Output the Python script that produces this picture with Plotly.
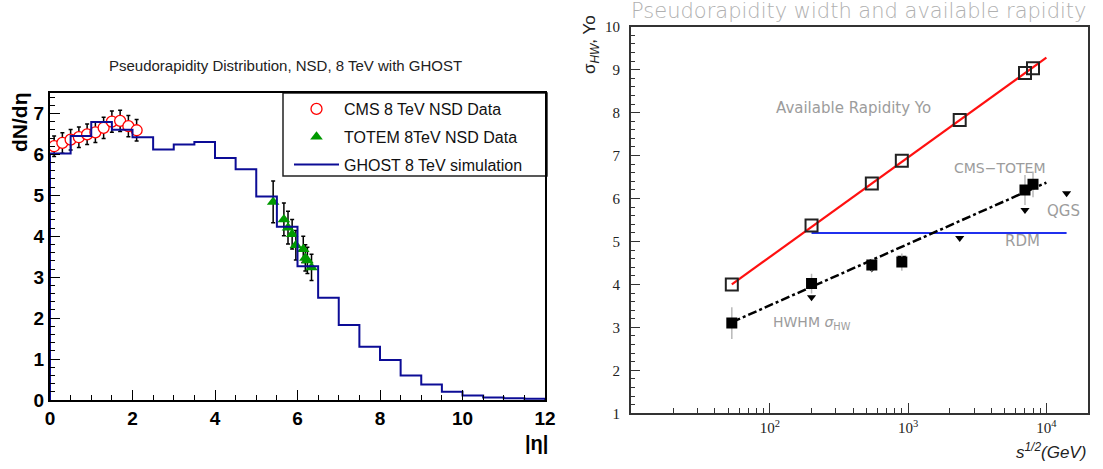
import plotly.graph_objects as go

W, H = 1103, 469

# ---------------- Left panel data ----------------
eta_edges = [0, 0.5, 1, 1.5, 2, 2.5, 3, 3.5, 4, 4.5, 5, 5.5, 6, 6.5, 7, 7.5,
             8, 8.5, 9, 9.5, 10, 10.5, 11, 11.5, 12]
ghost_dndeta = [6.02, 6.45, 6.79, 6.60, 6.42, 6.12, 6.24, 6.30, 5.91, 5.64, 4.97, 4.23,
                3.27, 2.50, 1.83, 1.30, 0.98, 0.60, 0.38, 0.20, 0.11, 0.06, 0.04, 0.03]

cms_eta = [0.1, 0.3, 0.5, 0.7, 0.9, 1.1, 1.3, 1.5, 1.7, 1.9, 2.1]
cms_dndeta = [6.20, 6.28, 6.36, 6.42, 6.49, 6.54, 6.65, 6.80, 6.82, 6.69, 6.59]
cms_err = [0.25, 0.25, 0.25, 0.25, 0.25, 0.25, 0.26, 0.26, 0.26, 0.26, 0.26]

totem_eta = [5.41, 5.67, 5.77, 5.87, 5.96, 6.14, 6.19, 6.24, 6.34]
totem_dndeta = [4.84, 4.41, 4.21, 4.05, 3.78, 3.68, 3.47, 3.41, 3.24]
totem_err = [0.51, 0.40, 0.40, 0.36, 0.36, 0.32, 0.32, 0.32, 0.32]

# ---------------- Right panel data ----------------
yo_sqrts = [53, 200, 546, 900, 2360, 7000, 8000]
yo_val = [4.0, 5.37, 6.35, 6.88, 7.83, 8.92, 9.03]
yo_fit_sqrts = [53, 10000]
yo_fit_val = [4.0, 9.28]

hw_sqrts = [53, 200, 546, 900, 7000, 8000]
hw_val = [3.10, 4.02, 4.45, 4.52, 6.20, 6.33]
hw_err = [0.37, 0.23, 0.15, 0.20, 0.35, 0.30]
hw_fit_sqrts = [53, 10000]
hw_fit_val = [3.12, 6.37]

qgs_sqrts = [200, 546, 900, 2360, 7000, 14000]
qgs_val = [3.70, 4.37, 4.62, 5.08, 5.73, 6.12]

rdm_sqrts = [200, 14000]
rdm_val = [5.20, 5.20]

xtick_vals = [100, 1000, 10000]
xtick_text = ["10<sup>2</sup>", "10<sup>3</sup>", "10<sup>4</sup>"]
xminor_vals = [m * d for d in (10, 100, 1000) for m in range(2, 10)] + [20000]

# histogram step path built from bin edges/contents
hx = [eta_edges[0]] + eta_edges[:-1] + [eta_edges[-1], eta_edges[-1]]
hy = [0] + ghost_dndeta + [ghost_dndeta[-1], 0]

fig = go.Figure()

fig.add_trace(go.Scatter(
    x=cms_eta, y=cms_dndeta, mode="markers", name="CMS 8 TeV NSD Data",
    legendgroup="a", legendrank=1,
    marker=dict(symbol="circle", size=11, color="white", line=dict(color="red", width=1.3)),
    error_y=dict(type="data", array=cms_err, color="black", thickness=1.5, width=2),
    xaxis="x", yaxis="y"))
fig.add_trace(go.Scatter(
    x=totem_eta, y=totem_dndeta, mode="markers", name="TOTEM 8TeV NSD Data",
    legendgroup="b", legendrank=2,
    marker=dict(symbol="triangle-up", size=11, color="#009900"),
    error_y=dict(type="data", array=totem_err, color="black", thickness=1.5, width=2),
    xaxis="x", yaxis="y"))
fig.add_trace(go.Scatter(
    x=hx, y=hy, mode="lines", line_shape="hv", name="GHOST 8 TeV simulation",
    legendgroup="c", legendrank=3,
    line=dict(color="#0c0c96", width=2),
    xaxis="x", yaxis="y"))

# right panel
fig.add_trace(go.Scatter(
    x=yo_fit_sqrts, y=yo_fit_val, mode="lines", showlegend=False,
    line=dict(color="#ff1010", width=2.2), xaxis="x2", yaxis="y2"))
fig.add_trace(go.Scatter(
    x=rdm_sqrts, y=rdm_val, mode="lines", showlegend=False,
    line=dict(color="#2030ee", width=2), xaxis="x2", yaxis="y2"))
fig.add_trace(go.Scatter(
    x=hw_fit_sqrts, y=hw_fit_val, mode="lines", showlegend=False,
    line=dict(color="black", width=2.5, dash="dashdot"), xaxis="x2", yaxis="y2"))
fig.add_trace(go.Scatter(
    x=qgs_sqrts, y=qgs_val, mode="markers", showlegend=False,
    marker=dict(symbol="triangle-down", size=8, color="black"),
    xaxis="x2", yaxis="y2"))
fig.add_trace(go.Scatter(
    x=hw_sqrts, y=hw_val, mode="markers", showlegend=False,
    marker=dict(symbol="square", size=11, color="black"),
    error_y=dict(type="data", array=hw_err, color="#b8b8b8", thickness=1.5, width=0),
    xaxis="x2", yaxis="y2"))
fig.add_trace(go.Scatter(
    x=yo_sqrts, y=yo_val, mode="markers", showlegend=False,
    marker=dict(symbol="square-open", size=12, color="#222222", line=dict(width=2)),
    xaxis="x2", yaxis="y2"))

boldfont = dict(family="Liberation Sans", size=19, color="black", weight="bold")
seriffont = dict(family="Liberation Serif", size=15, color="#222222")

fig.update_layout(
    width=W, height=H, margin=dict(l=0, r=0, t=0, b=0, autoexpand=False),
    autosize=False,
    paper_bgcolor="white", plot_bgcolor="white",
    xaxis=dict(domain=[50 / W, 545 / W], anchor="y", range=[0, 12], dtick=2,
               ticks="inside", ticklen=10, tickwidth=1.2, tickcolor="black",
               minor=dict(dtick=0.5, ticks="inside", ticklen=5, tickcolor="black"),
               showline=True, linecolor="black", linewidth=2, mirror=True, automargin=False,
               showgrid=False, zeroline=False, tickfont=boldfont),
    yaxis=dict(domain=[1 - 400 / H, 1 - 93 / H], anchor="x", range=[0, 7.5], dtick=1,
               ticks="inside", ticklen=10, tickwidth=1.2, tickcolor="black",
               minor=dict(dtick=0.2, ticks="inside", ticklen=5, tickcolor="black"),
               showline=True, linecolor="black", linewidth=2, mirror=True, automargin=False,
               showgrid=False, zeroline=False, tickfont=boldfont),
    xaxis2=dict(domain=[631 / W, 1088 / W], anchor="y2", type="log", range=[0.995, 4.301],
                tickmode="array", tickvals=xtick_vals, ticktext=xtick_text,
                ticks="inside", ticklen=10, tickcolor="#333333",
                minor=dict(tickmode="array", tickvals=xminor_vals, ticks="inside",
                           ticklen=5, tickcolor="#333333"),
                showline=True, linecolor="#333333", linewidth=2, mirror=True, automargin=False,
                showgrid=False, zeroline=False, tickfont=seriffont),
    yaxis2=dict(domain=[1 - 413.3 / H, 1 - 26.7 / H], anchor="x2", range=[1, 10], dtick=1,
                ticks="inside", ticklen=9, tickcolor="#333333",
                minor=dict(dtick=0.2, ticks="inside", ticklen=4, tickcolor="#333333"),
                showline=True, linecolor="#333333", linewidth=2, mirror=True, automargin=False,
                showgrid=False, zeroline=False, tickfont=seriffont, ticklabelstandoff=6),
    legend=dict(x=289 / W, y=1 - 92 / H, xanchor="left", yanchor="top",
                bgcolor="rgba(0,0,0,0)", borderwidth=0, tracegroupgap=4, itemwidth=45,
                font=dict(family="Liberation Sans", size=16, color="#111111")),
    shapes=[dict(type="rect", xref="paper", yref="paper", layer="below",
                 x0=283 / W, x1=547 / W, y0=1 - 176 / H, y1=1 - 93 / H,
                 line=dict(color="#222222", width=1.5), fillcolor="white")],
)

gray = "#9c9c9c"
ann = [
    dict(text="Pseudorapidity Distribution, NSD, 8 TeV with GHOST", x=285, y=65,
         font=dict(family="Liberation Sans", size=15, color="#222222")),
    dict(text="dN/d\u03b7", x=19, y=123, textangle=-90,
         font=dict(family="Liberation Sans", size=21, color="black", weight="bold")),
    dict(text="|\u03b7|", x=536, y=443,
         font=dict(family="Liberation Sans", size=20, color="black", weight="bold")),
    dict(text="Pseudorapidity width and available rapidity", x=859, y=11,
         font=dict(family="DejaVu Sans", size=21, color="#b0b0b0", weight=200)),
    dict(text="Available Rapidity Yo", x=853, y=108,
         font=dict(family="DejaVu Sans", size=15, color=gray)),
    dict(text="CMS\u2212TOTEM", x=1000, y=168,
         font=dict(family="DejaVu Sans", size=14, color=gray)),
    dict(text="QGS", x=1063, y=211,
         font=dict(family="DejaVu Sans", size=15, color=gray)),
    dict(text="RDM", x=1023, y=241,
         font=dict(family="DejaVu Sans", size=15, color=gray)),
    dict(text="HWHM <i>\u03c3</i><sub>HW</sub>", x=812, y=323,
         font=dict(family="DejaVu Sans", size=14, color=gray)),
    dict(text="\u03c3<sub><i>HW</i></sub>, Yo", x=591, y=45, textangle=-90,
         font=dict(family="Liberation Sans", size=17, color="#222222")),
    dict(text="<i>s<sup>1/2</sup>(GeV)</i>", x=1051, y=451,
         font=dict(family="Liberation Sans", size=17, color="#222222")),
]
for a in ann:
    fig.add_annotation(xref="paper", yref="paper", x=a["x"] / W, y=1 - a["y"] / H,
                       xanchor="center", yanchor="middle", showarrow=False,
                       text=a["text"], textangle=a.get("textangle", 0), font=a["font"])

fig.write_html("out.html", config={"responsive": False},
               post_script="document.body.style.margin='0px';")
